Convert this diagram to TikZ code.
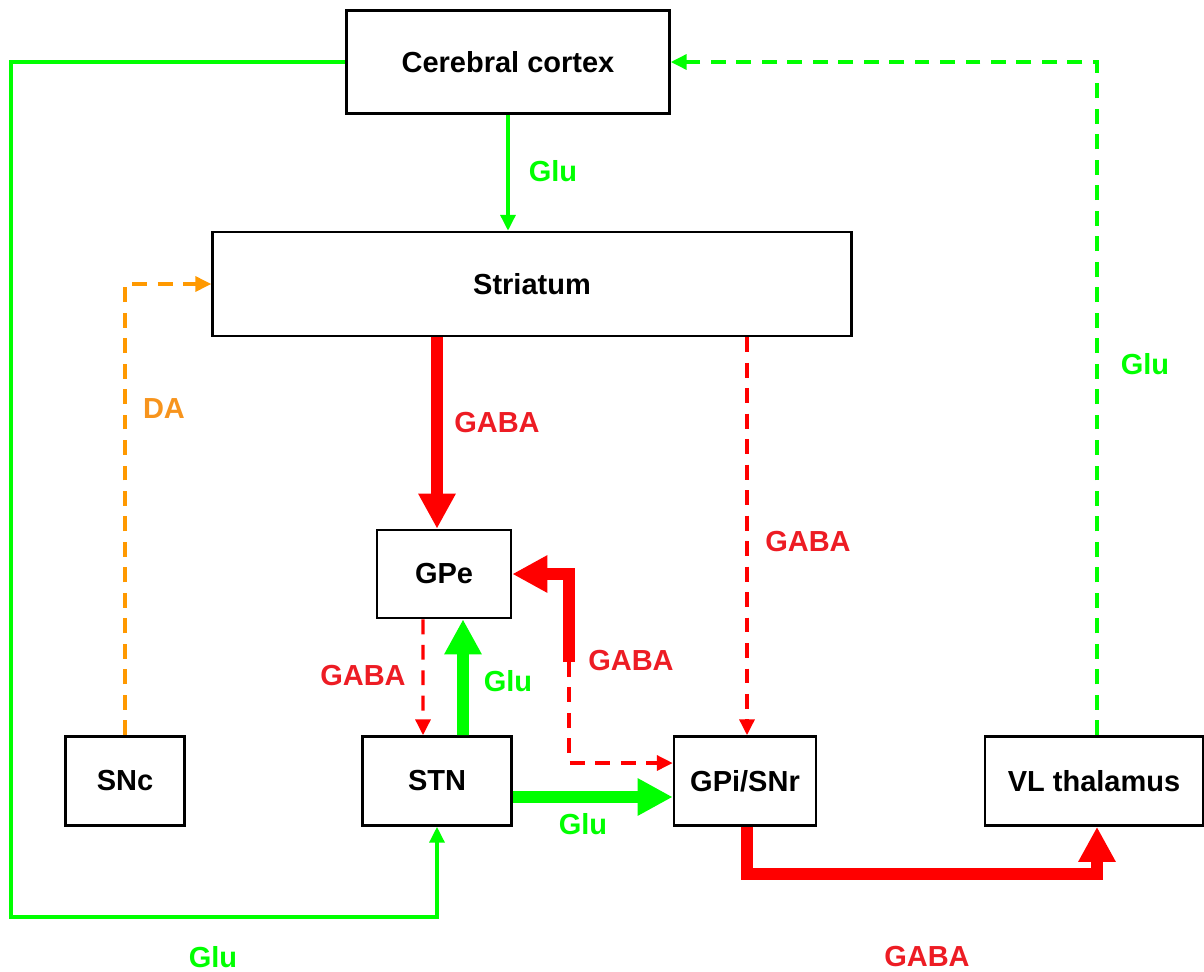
\documentclass[tikz,border=0pt]{standalone}
\usepackage{fontspec}
\setmainfont{Liberation Sans}
\usepackage{tikz}
\usetikzlibrary{arrows.meta}

\definecolor{glu}{RGB}{0,255,0}
\definecolor{gaba}{RGB}{255,0,0}
\definecolor{gabatext}{RGB}{237,28,36}
\definecolor{da}{RGB}{255,153,0}
\definecolor{datext}{RGB}{247,148,29}

\begin{document}
\begin{tikzpicture}[x=0.02cm, y=-0.02cm,
            area/.style={draw=black, line width=1.5pt, inner sep=0pt,
                font=\fontsize{16.5}{20}\selectfont\bfseries},
            tag/.style={font=\fontsize{16.5}{20}\selectfont\bfseries},
            weak/.style={line width=1.9pt, -{Triangle[length=9pt, width=8.5pt]}},
            strong/.style={line width=6.6pt, -{Triangle[length=20pt, width=20pt]}},
            dashline/.style={dash pattern=on 8.5pt off 6pt}]
            \useasboundingbox (0,0) rectangle (1204,971);
            \foreach \name/\x/\y/\w/\h/\txt in {
                cortex/508/62/6.46/2.06/Cerebral cortex,
                striatum/532/284/12.78/2.08/Striatum,
                gpe/444/574/2.68/1.76/GPe,
                snc/125/781/2.38/1.78/SNc,
                stn/437/781/2.98/1.78/STN,
                gpi/745/781/2.84/1.78/{GPi/SNr},
                vl/1094/781/4.36/1.78/VL thalamus} {
                \node[area, minimum width=\w cm, minimum height=\h cm] (\name) at (\x,\y) {\txt};
            }
            \coordinate (split) at (569,662);
            \draw[weak, glu] (cortex.south) -- (cortex.south |- striatum.north);
            \draw[weak, glu] (cortex.west) -| (11,917) -| (stn.south);
            \draw[weak, glu, dashline] ([xshift=0.06cm]vl.north) |- (cortex.east);
            \draw[weak, da, dashline] (snc.north) |- (striatum.west);
            \draw[strong, gaba] (striatum.south -| stn.north) -- (gpe.north -| stn.north);
            \draw[weak, gaba, dashline] ([xshift=0.04cm]striatum.south -| gpi.north) -- ([xshift=0.04cm]gpi.north);
            \draw[weak, gaba, dashline] ([xshift=-0.42cm]gpe.south) -- ([xshift=-0.28cm]stn.north);
            \draw[strong, glu] ([xshift=0.52cm]stn.north) -- ([xshift=0.38cm]gpe.south);
            \draw[strong, gaba, line cap=butt] (split) |- (gpe.east);
            \draw[weak, gaba, dashline] (split) |- ([yshift=0.36cm]gpi.west);
            \draw[strong, glu] ([yshift=-0.32cm]stn.east) -- ([yshift=-0.32cm]gpi.west);
            \draw[strong, gaba] ([xshift=0.04cm]gpi.south) -- ++(0,47) -| ([xshift=0.06cm]vl.south);
            \foreach \name/\x/\y/\col/\txt in {
                lcs/553/171/glu/Glu,
                lcn/213/957/glu/Glu,
                lvc/1145/364/glu/Glu,
                lda/164/409/datext/DA,
                lsg/497/423/gabatext/GABA,
                lsp/808/542/gabatext/GABA,
                lgs/363/676/gabatext/GABA,
                lsg2/508/681/glu/Glu,
                lpg/631/661/gabatext/GABA,
                lsp2/583/824/glu/Glu,
                lpv/927/957/gabatext/GABA} {
                \node[tag, text=\col] (\name) at (\x,\y) {\txt};
            }
        \end{tikzpicture}
\end{document}
